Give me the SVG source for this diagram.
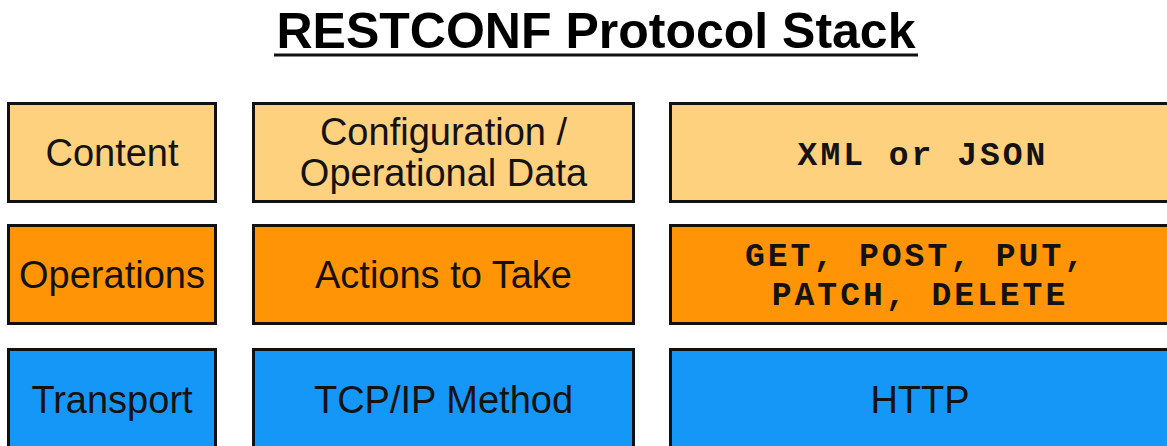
<svg xmlns="http://www.w3.org/2000/svg" width="1167" height="446" viewBox="0 0 1167 446">
  <style>
    .box { stroke: #121010; stroke-width: 3; }
    .content { fill: #FDD17D; }
    .ops { fill: #FE9406; }
    .transport { fill: #1497F7; }
    .label { font-family: "Liberation Sans", Arial, sans-serif; font-size: 38px; fill: #141212; text-anchor: middle; }
    .code { font-family: "Liberation Mono", "Courier New", monospace; font-weight: bold; font-size: 33px; letter-spacing: 3px; fill: #141212; text-anchor: middle; }
    .title { font-family: "Liberation Sans", Arial, sans-serif; font-weight: bold; font-size: 50px; fill: #000; text-anchor: middle; }
  </style>

  <rect width="1167" height="446" fill="#ffffff"/>

  <!-- heading -->
  <g id="title">
    <text class="title" x="596" y="48">RESTCONF Protocol Stack</text>
    <line x1="274" y1="55" x2="918" y2="55" stroke="#111" stroke-width="3"/>
  </g>

  <!-- content layer -->
  <g id="content-layer">
    <rect class="box content" x="8.5" y="103.5" width="207" height="98"/>
    <text class="label" x="112" y="166">Content</text>
  </g>
  <g id="content-desc">
    <rect class="box content" x="253.5" y="103.5" width="380" height="98"/>
    <text class="label" x="443.5" y="145">Configuration /</text>
    <text class="label" x="443.5" y="186">Operational Data</text>
  </g>
  <g id="content-proto">
    <rect class="box content" x="670.5" y="103.5" width="510" height="98"/>
    <text class="code" x="923" y="165">XML or JSON</text>
  </g>

  <!-- operations layer -->
  <g id="operations-layer">
    <rect class="box ops" x="8.5" y="225.5" width="207" height="98"/>
    <text class="label" x="112" y="288">Operations</text>
  </g>
  <g id="operations-desc">
    <rect class="box ops" x="253.5" y="225.5" width="380" height="98"/>
    <text class="label" x="443.5" y="288">Actions to Take</text>
  </g>
  <g id="operations-proto">
    <rect class="box ops" x="670.5" y="225.5" width="510" height="98"/>
    <text class="code" x="916" y="266">GET, POST, PUT,</text>
    <text class="code" x="920" y="305">PATCH, DELETE</text>
  </g>

  <!-- transport layer -->
  <g id="transport-layer">
    <rect class="box transport" x="8.5" y="349.5" width="207" height="98"/>
    <text class="label" x="112" y="413">Transport</text>
  </g>
  <g id="transport-desc">
    <rect class="box transport" x="253.5" y="349.5" width="380" height="98"/>
    <text class="label" x="443.5" y="413">TCP/IP Method</text>
  </g>
  <g id="transport-proto">
    <rect class="box transport" x="670.5" y="349.5" width="510" height="98"/>
    <text class="label" x="920" y="413">HTTP</text>
  </g>

  <g id="connectors"></g>
</svg>
